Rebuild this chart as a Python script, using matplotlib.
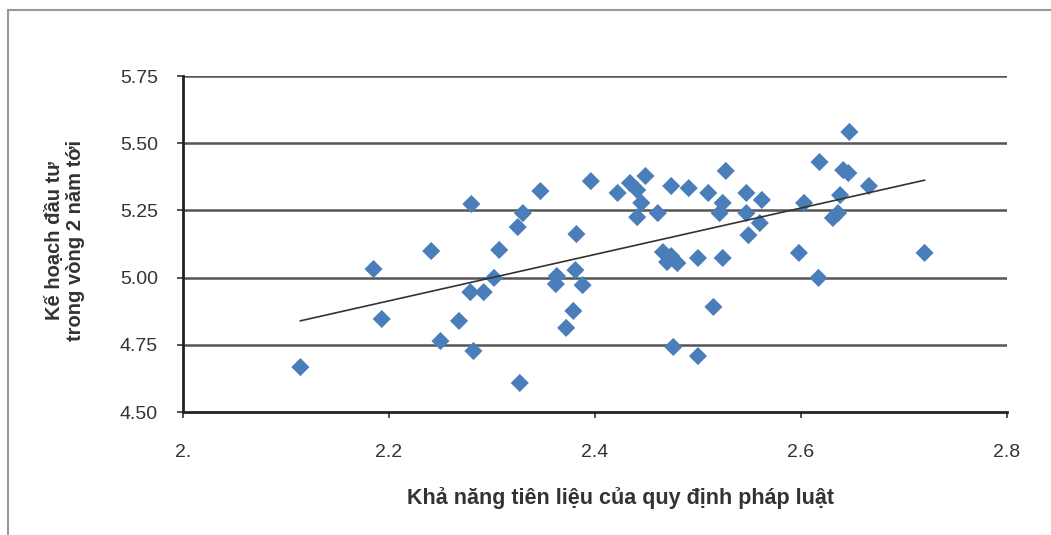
import matplotlib.pyplot as plt
import numpy as np
from matplotlib.lines import Line2D

plt.rcParams['font.family'] = ['Liberation Sans', 'DejaVu Sans']

# data
x_vals = [2.114, 2.185, 2.193, 2.241, 2.250, 2.268, 2.280, 2.282, 2.279, 2.292,
          2.302, 2.307, 2.325, 2.330, 2.347, 2.327, 2.363, 2.362, 2.382, 2.379,
          2.372, 2.381, 2.388, 2.396, 2.422, 2.434, 2.449, 2.441, 2.445, 2.441,
          2.461, 2.474, 2.491, 2.510, 2.527, 2.524, 2.521, 2.547, 2.547, 2.549,
          2.562, 2.560, 2.466, 2.474, 2.470, 2.480, 2.500, 2.524, 2.515, 2.476,
          2.500, 2.603, 2.598, 2.617, 2.618, 2.647, 2.641, 2.646, 2.666, 2.638,
          2.636, 2.631, 2.720]
y_vals = [4.667, 5.032, 4.846, 5.099, 4.764, 4.839, 5.274, 4.727, 4.946, 4.946,
          4.999, 5.103, 5.188, 5.240, 5.322, 4.608, 5.006, 4.976, 5.162, 4.876,
          4.813, 5.028, 4.972, 5.359, 5.315, 5.352, 5.378, 5.326, 5.278, 5.225,
          5.240, 5.341, 5.333, 5.315, 5.397, 5.278, 5.240, 5.315, 5.240, 5.158,
          5.289, 5.203, 5.095, 5.080, 5.058, 5.054, 5.073, 5.073, 4.891, 4.742,
          4.708, 5.278, 5.092, 4.999, 5.430, 5.542, 5.400, 5.389, 5.341, 5.307,
          5.240, 5.222, 5.092]
x_ticks = [2.0, 2.2, 2.4, 2.6, 2.8]
x_labels = ['2.', '2.2', '2.4', '2.6', '2.8']
y_ticks = [4.50, 4.75, 5.00, 5.25, 5.50, 5.75]
y_labels = ['4.50', '4.75', '5.00', '5.25', '5.50', '5.75']

fig = plt.figure(figsize=(10.51, 5.35), dpi=100)
ax = fig.add_axes([0.1741, 0.2299, 0.784, 0.628])

ax.set_xlim(2.0, 2.8)
ax.set_ylim(4.5, 5.75)
for yv in y_ticks[1:]:
    ax.axhline(yv, color='#555555', lw=1.8, zorder=1)

ax.scatter(x_vals, y_vals, marker='D', s=85, color='#4a7ebb', edgecolors='none', zorder=3)

# linear trend line
xa = np.array(x_vals)
coef = np.polyfit(xa, y_vals, 1)
xl = np.array([xa.min(), xa.max()])
ax.plot(xl, np.polyval(coef, xl), color='#333333', lw=1.2, zorder=4)

ax.set_xticks(x_ticks)
ax.set_xticklabels(x_labels)
ax.set_yticks(y_ticks)
ax.set_yticklabels(y_labels)
ax.tick_params(axis='both', direction='out', length=4, width=1.2, colors='#333333',
               labelsize=14, labelcolor='#333333')
ax.tick_params(axis='x', pad=19)
ax.tick_params(axis='y', pad=14)

for side in ['top', 'right']:
    ax.spines[side].set_visible(False)
for side in ['left', 'bottom']:
    ax.spines[side].set_color('#222222')
    ax.spines[side].set_linewidth(2)

fig.text(0.59, 0.07, 'Khả năng tiên liệu của quy định pháp luật', ha='center',
         va='center', fontsize=15.5, fontweight='bold', color='#333333')
fig.text(0.062, 0.55, 'Kế hoạch đầu tư\ntrong vòng 2 năm tới', rotation=90,
         ha='center', va='center', fontsize=14.5, fontweight='bold', color='#333333',
         linespacing=1.15)

# outer frame lines
fig.add_artist(Line2D([0.0076, 0.0076], [0.0, 0.981], color='#999999', lw=1.5))
fig.add_artist(Line2D([0.0076, 1.0], [0.981, 0.981], color='#999999', lw=1.5))

fig.savefig('out.png', dpi=100)
